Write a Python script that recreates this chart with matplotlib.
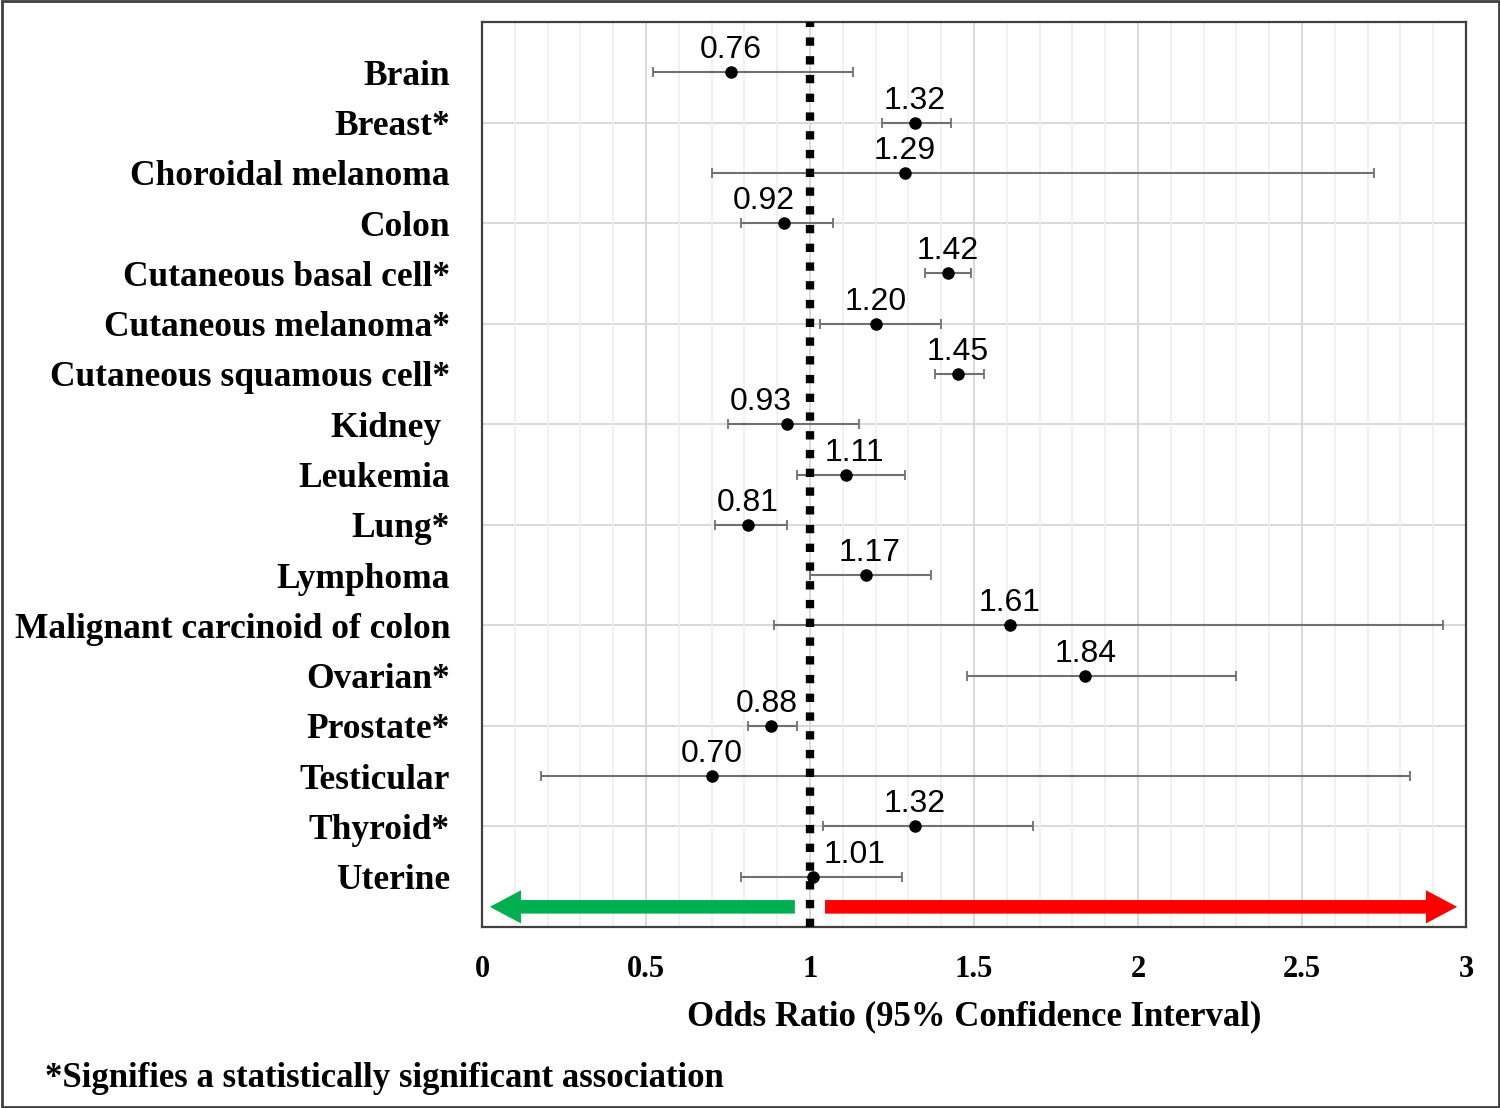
import numpy as np
import matplotlib
matplotlib.use("Agg")
import matplotlib.pyplot as plt
from matplotlib.patches import Rectangle
from matplotlib.ticker import MultipleLocator

# cancer sites, top to bottom
sites = ["Brain", "Breast*", "Choroidal melanoma", "Colon", "Cutaneous basal cell*",
         "Cutaneous melanoma*", "Cutaneous squamous cell*", "Kidney ", "Leukemia", "Lung*",
         "Lymphoma", "Malignant carcinoid of colon", "Ovarian*", "Prostate*", "Testicular",
         "Thyroid*", "Uterine"]
odds = [0.76, 1.32, 1.29, 0.92, 1.42, 1.20, 1.45, 0.93, 1.11, 0.81,
        1.17, 1.61, 1.84, 0.88, 0.70, 1.32, 1.01]
ci_low = [0.52, 1.22, 0.70, 0.79, 1.35, 1.03, 1.38, 0.75, 0.96, 0.71,
          1.00, 0.89, 1.48, 0.81, 0.18, 1.04, 0.79]
ci_high = [1.13, 1.43, 2.72, 1.07, 1.49, 1.40, 1.53, 1.15, 1.29, 0.93,
           1.37, 2.93, 2.30, 0.96, 2.83, 1.68, 1.28]

# label nudges (points) so text clears the dotted line
nudge = {"Colon": -14, "Kidney ": -19, "Leukemia": 6, "Lymphoma": 3,
         "Prostate*": -3, "Uterine": 30}

n = len(sites)
ypos = np.arange(n, 0, -1)
odds = np.array(odds)
err = [odds - np.array(ci_low), np.array(ci_high) - odds]

fig = plt.figure(figsize=(15, 11.08), dpi=100)
ax = fig.add_axes([0.3213, 0.1634, 0.656, 0.8167])

ax.set_xlim(0, 3)
ax.set_ylim(0, n + 1)

# grid
ax.xaxis.set_major_locator(MultipleLocator(0.5))
ax.xaxis.set_minor_locator(MultipleLocator(0.1))
ax.grid(axis="x", which="minor", color="#efefef", lw=1.2, zorder=0)
ax.grid(axis="x", which="major", color="#d9d9d9", lw=1.4, zorder=0)
for g in range(2, n + 1, 2):
    ax.axhline(g, color="#d9d9d9", lw=1.4, zorder=0)

ax.errorbar(odds, ypos, xerr=err, fmt="none", ecolor="#707070", elinewidth=1.5,
            capsize=3.6, capthick=1.3, zorder=2)
ax.axvline(1, color="black", lw=6, linestyle=(0, (1.0, 1.25)), zorder=3)
ax.plot(odds, ypos, "o", color="black", ms=8, zorder=4)

for s, v, y in zip(sites, odds, ypos):
    ax.annotate(f"{v:.2f}", (v, y), xytext=(nudge.get(s, 0), 5), textcoords="offset points",
                ha="center", va="bottom", fontsize=23, family="Liberation Sans", zorder=5)

# direction arrows
ax.arrow(0.954, 0.4, 0.024 - 0.954, 0, width=0.27, head_width=0.66, head_length=0.095,
         length_includes_head=True, color="#00b050", lw=0, zorder=3)
ax.arrow(1.046, 0.4, 2.973 - 1.046, 0, width=0.27, head_width=0.66, head_length=0.095,
         length_includes_head=True, color="#ff0000", lw=0, zorder=3)

ax.set_yticks(ypos)
ax.set_yticklabels(sites, family="Liberation Serif", fontweight="bold", fontsize=25.5)
ax.set_xticks(np.arange(0, 3.01, 0.5))
ax.set_xticklabels(["0", "0.5", "1", "1.5", "2", "2.5", "3"],
                   family="Liberation Serif", fontweight="bold", fontsize=22)
ax.tick_params(axis="both", which="both", length=0)
ax.tick_params(axis="y", pad=23)
ax.tick_params(axis="x", pad=20)
ax.set_xlabel("Odds Ratio (95% Confidence Interval)", family="Liberation Serif",
              fontweight="bold", fontsize=25, labelpad=12)
for sp in ax.spines.values():
    sp.set_color("#404040")
    sp.set_linewidth(1.6)

fig.text(0.03, 0.027, "*Signifies a statistically significant association",
         family="Liberation Serif", fontweight="bold", fontsize=25, ha="left", va="center")

fig.patches.append(Rectangle((0.001, 0.001), 0.998, 0.998, transform=fig.transFigure,
                             fill=False, edgecolor="#404040", lw=2))

fig.savefig("out.png", dpi=100)
